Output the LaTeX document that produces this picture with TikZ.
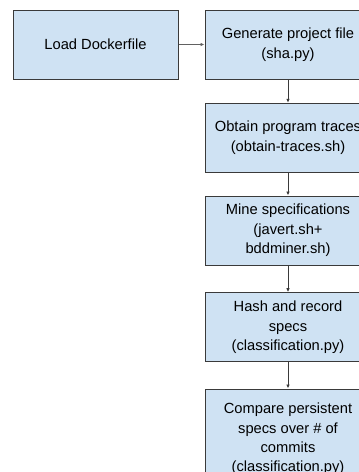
\documentclass[tikz,border=0pt]{standalone}
\usepackage{fontspec}
\setmainfont{Liberation Sans}
\usetikzlibrary{arrows.meta}
\definecolor{boxblue}{HTML}{CFE2F3}
\definecolor{boxedge}{HTML}{3A3A3A}
\tikzset{
  stepbox/.style={draw=boxedge, fill=boxblue, line width=1pt, minimum width=166pt,
    minimum height=69pt, align=center, inner sep=0pt,
    font=\fontsize{14.7}{19.4}\selectfont},
  flow/.style={draw=boxedge, line width=0.8pt, -{Latex[length=4pt,width=3.5pt]}}
}

\begin{document}
\begin{tikzpicture}[x=1pt,y=1pt]
    \clip (0,0) rectangle (359,-472);
    \node[stepbox, minimum width=165pt] (load) at (95.5,-44.5) {Load Dockerfile};
    \node[stepbox] (gensha) at (288,-44.5) {Generate project file\\(sha.py)};
    \node[stepbox] (traces) at (288,-137.8) {Obtain program traces\\(obtain-traces.sh)};
    \node[stepbox] (mine) at (288,-230.5) {Mine specifications\\(javert.sh+\\bddminer.sh)};
    \node[stepbox] (hash) at (288,-327.2) {Hash and record\\specs\\(classification.py)};
    \node[stepbox, minimum height=100pt] (compare) at (288,-439) {Compare persistent\\specs over \# of\\commits\\(classification.py)};
    % connectors
    \draw[flow, draw=boxedge!80] (load) -- (gensha);
    \draw[flow] (gensha) -- (traces);
    \draw[flow] (traces) -- (mine);
    \draw[flow] (mine) -- (hash);
    \draw[flow] (hash) -- (compare);
\end{tikzpicture}
\end{document}
